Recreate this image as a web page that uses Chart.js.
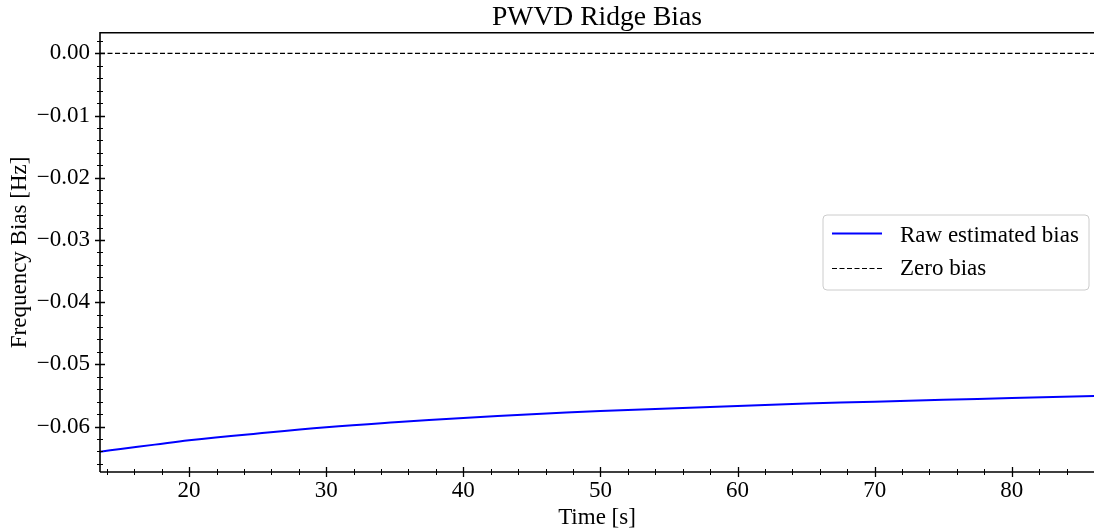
<!DOCTYPE html>
<html>
<head>
<meta charset="utf-8">
<script src="https://cdn.jsdelivr.net/npm/chart.js@4/dist/chart.umd.min.js"></script>
<style>
  html, body { margin: 0; padding: 0; background: #fff; }
  #wrap { width: 1094px; height: 529px; position: relative; }
</style>
</head>
<body>
<div id="wrap"><canvas id="c" width="1094" height="529"></canvas></div>
<script>
// ---- data ----
const timeS   = [13.5, 15, 17.5, 20, 25, 30, 35, 40, 45, 50, 55, 60, 65, 70, 75, 80, 86];
const rawBias = [-0.06405, -0.0636, -0.0629, -0.0622, -0.0611, -0.0601, -0.0593, -0.0586,
                 -0.0580, -0.0575, -0.0571, -0.0567, -0.0563, -0.0560, -0.0557, -0.0554, -0.0551];
const zeroX = [13.5, 86];
const zeroY = [0, 0];
const xMajorTicks = [20, 30, 40, 50, 60, 70, 80];
const xMinorTicks = [14, 16, 18, 22, 24, 26, 28, 32, 34, 36, 38, 42, 44, 46, 48, 52, 54, 56, 58,
                     62, 64, 66, 68, 72, 74, 76, 78, 82, 84, 86];
const yMajorTicks = [0, -0.01, -0.02, -0.03, -0.04, -0.05, -0.06];
const yMinorTicks = [0.002, -0.002, -0.004, -0.006, -0.008, -0.012, -0.014, -0.016, -0.018,
                     -0.022, -0.024, -0.026, -0.028, -0.032, -0.034, -0.036, -0.038,
                     -0.042, -0.044, -0.046, -0.048, -0.052, -0.054, -0.056, -0.058,
                     -0.062, -0.064, -0.066];
const xRange = [13.5, 86];
const yRange = [-0.0673, 0.0033];
const seriesLabels = ['Raw estimated bias', 'Zero bias'];

const FONT = '"Liberation Serif", "DejaVu Serif", serif';

const frame = {
  id: 'frame',
  afterDraw(chart) {
    const ctx = chart.ctx;
    const a = chart.chartArea;
    const xs = chart.scales.x, ys = chart.scales.y;
    ctx.save();
    ctx.strokeStyle = '#000';
    // spines
    ctx.lineWidth = 1.6;
    ctx.beginPath();
    ctx.moveTo(a.left, a.bottom); ctx.lineTo(a.left, a.top); ctx.lineTo(a.right + 2, a.top);
    ctx.moveTo(a.left, a.bottom); ctx.lineTo(a.right + 2, a.bottom);
    ctx.stroke();
    // ticks (in-out)
    ctx.lineWidth = 1.3;
    ctx.beginPath();
    xMajorTicks.forEach(v => { const p = Math.round(xs.getPixelForValue(v)) + 0.5; ctx.moveTo(p, a.bottom - 5); ctx.lineTo(p, a.bottom + 5); });
    yMajorTicks.forEach(v => { const p = Math.round(ys.getPixelForValue(v)) + 0.5; ctx.moveTo(a.left - 5, p); ctx.lineTo(a.left + 5, p); });
    ctx.stroke();
    ctx.lineWidth = 1;
    ctx.beginPath();
    xMinorTicks.forEach(v => { if (v > xRange[1]) return; const p = Math.round(xs.getPixelForValue(v)) + 0.5; ctx.moveTo(p, a.bottom - 3); ctx.lineTo(p, a.bottom + 3); });
    yMinorTicks.forEach(v => { const p = Math.round(ys.getPixelForValue(v)) + 0.5; ctx.moveTo(a.left - 3, p); ctx.lineTo(a.left + 3, p); });
    ctx.stroke();

    // legend
    const lx = 823, ly = 215, lw = 266, lh = 75, r = 4;
    ctx.beginPath();
    ctx.moveTo(lx + r, ly); ctx.lineTo(lx + lw - r, ly); ctx.arcTo(lx + lw, ly, lx + lw, ly + r, r);
    ctx.lineTo(lx + lw, ly + lh - r); ctx.arcTo(lx + lw, ly + lh, lx + lw - r, ly + lh, r);
    ctx.lineTo(lx + r, ly + lh); ctx.arcTo(lx, ly + lh, lx, ly + lh - r, r);
    ctx.lineTo(lx, ly + r); ctx.arcTo(lx, ly, lx + r, ly, r);
    ctx.closePath();
    ctx.fillStyle = 'rgba(255,255,255,0.8)';
    ctx.fill();
    ctx.strokeStyle = '#cccccc';
    ctx.lineWidth = 1;
    ctx.stroke();
    const rows = [{y: 233.5, text: 241.5}, {y: 268.5, text: 275}];
    chart.data.datasets.forEach((ds, i) => {
      ctx.beginPath();
      ctx.strokeStyle = ds.borderColor;
      ctx.lineWidth = ds.borderWidth;
      ctx.setLineDash(ds.borderDash || []);
      ctx.moveTo(832, rows[i].y); ctx.lineTo(882, rows[i].y);
      ctx.stroke();
      ctx.setLineDash([]);
      ctx.fillStyle = '#000';
      ctx.font = '23px ' + FONT;
      ctx.textBaseline = 'alphabetic';
      ctx.textAlign = 'left';
      ctx.fillText(ds.label, 900, rows[i].text);
    });
    ctx.restore();
  }
};

const fmt = v => (Math.abs(v) < 1e-9 ? '0.00' : v.toFixed(2).replace('-', '\u2212'));

new Chart(document.getElementById('c'), {
  type: 'line',
  data: {
    datasets: [
      {
        label: seriesLabels[0],
        data: timeS.map((t, i) => ({x: t, y: rawBias[i]})),
        borderColor: '#0000ff',
        borderWidth: 2,
        pointRadius: 0,
        tension: 0.4,
        fill: false
      },
      {
        label: seriesLabels[1],
        data: zeroX.map((t, i) => ({x: t, y: zeroY[i]})),
        borderColor: '#000000',
        borderWidth: 1.1,
        borderDash: [5, 2.5],
        pointRadius: 0,
        fill: false
      }
    ]
  },
  options: {
    responsive: false,
    animation: false,
    events: [],
    layout: { padding: 0 },
    plugins: {
      legend: { display: false },
      tooltip: { enabled: false },
      title: {
        display: true,
        text: 'PWVD Ridge Bias',
        fullSize: false,
        color: '#000',
        font: { family: FONT, size: 27.6, weight: 'normal', lineHeight: 1.08 },
        padding: { top: 3, bottom: 0 }
      }
    },
    scales: {
      x: {
        type: 'linear',
        min: xRange[0], max: xRange[1],
        afterBuildTicks: s => { s.ticks = xMajorTicks.map(v => ({value: v})); },
        afterFit: s => { s.height = 57; },
        grid: { display: false, drawTicks: false },
        border: { display: false },
        ticks: { color: '#000', font: { family: FONT, size: 23 }, padding: 5, maxRotation: 0, callback: v => String(v) },
        title: { display: true, text: 'Time [s]', color: '#000', font: { family: FONT, size: 23, lineHeight: 1.0 }, padding: { top: 0, bottom: 0 } }
      },
      y: {
        type: 'linear',
        min: yRange[0], max: yRange[1],
        afterBuildTicks: s => { s.ticks = yMajorTicks.map(v => ({value: v})); },
        afterFit: s => { s.width = 100; },
        grid: { display: false, drawTicks: false },
        border: { display: false },
        ticks: { color: '#000', font: { family: FONT, size: 23 }, padding: 10, callback: v => fmt(v) },
        title: { display: true, text: 'Frequency Bias [Hz]', color: '#000', font: { family: FONT, size: 23, lineHeight: 1.2 }, padding: { top: 6, bottom: 0 } }
      }
    }
  },
  plugins: [frame]
});
</script>
</body>
</html>
